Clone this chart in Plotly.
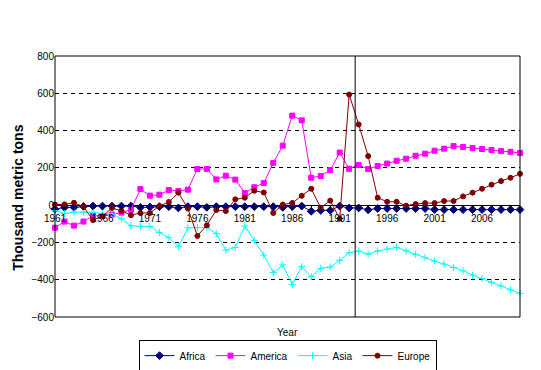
import plotly.graph_objects as go

years = list(range(1961, 2011))

africa = [-22, -12, -12, -7, -5, -5, -5, -5, -5, -12,
          -10, -8, -8, -15, -8, -8, -12, -8, -8, -8,
          -8, -8, -8, -8, -12, -8, -5, -33, -28, -28,
          -5, -15, -15, -25, -18, -18, -18, -18, -18, -18,
          -24, -24, -24, -24, -24, -24, -24, -24, -24, -24]

america = [-121, -88, -110, -88, -57, -57, -50, -40, -25, 86,
           51, 56, 81, 76, 83, 194, 194, 138, 158, 137,
           65, 96, 118, 227, 319, 480, 455, 147, 156, 188,
           282, 195, 215, 194, 210, 223, 238, 249, 265, 276,
           292, 303, 317, 312, 306, 301, 296, 290, 286, 280]

asia = [-30, -45, -38, -38, -38, -46, -46, -73, -110, -114,
        -114, -147, -175, -223, -122, -120, -120, -153, -241, -227,
        -112, -189, -268, -362, -321, -425, -330, -384, -339, -332,
        -296, -255, -246, -263, -246, -236, -226, -245, -264, -280,
        -300, -316, -334, -352, -375, -393, -414, -434, -455, -473]

europe = [3, 4, 13, -9, -80, -60, -15, -31, -54, -42,
          -42, -4, 17, 67, -18, -165, -108, -26, -32, 31,
          40, 77, 68, -42, 3, 12, 50, 88, -14, 24,
          -73, 593, 433, 263, 40, 18, 18, -3, 6, 11,
          11, 22, 22, 47, 67, 88, 110, 129, 147, 168]

tick_labels = [str(y) if (y - 1961) % 5 == 0 else "" for y in years]
y_ticks = [-600, -400, -200, 0, 200, 400, 600, 800]
marker_year = 1992.63

FONT = "Liberation Sans, Arial, sans-serif"

series = [
    ("Africa", africa, "#000080", "diamond", 6),
    ("America", america, "#FF00FF", "square", 5),
    ("Asia", asia, "#00FFFF", "cross-thin", 5),
    ("Europe", europe, "#800000", "circle", 5),
]

fig = go.Figure()
for name, vals, color, sym, size in series:
    fig.add_trace(go.Scatter(
        x=years, y=vals, name=name, mode="lines+markers",
        line=dict(color=color, width=1),
        marker=dict(symbol=sym, size=size, color=color,
                    line=dict(color=color, width=1)),
        cliponaxis=False,
    ))

fig.add_shape(type="line", xref="x", yref="paper",
              x0=marker_year, x1=marker_year, y0=0, y1=1,
              line=dict(color="black", width=1))
fig.add_shape(type="rect", xref="paper", yref="paper",
              x0=0, x1=1, y0=0, y1=1,
              line=dict(color="black", width=1), layer="above")

fig.add_annotation(text="<b>Thousand metric tons</b>", textangle=-90,
                   xref="paper", yref="paper", x=-0.08, y=0.456,
                   xanchor="center", yanchor="middle",
                   showarrow=False, font=dict(size=14, color="black", family=FONT))
fig.add_annotation(text="Year", xref="paper", yref="paper", x=0.5, y=-0.061,
                   xanchor="center", yanchor="middle",
                   showarrow=False, font=dict(size=10, color="black", family=FONT))

# page body adds an 8px offset; margins compensate for it
fig.update_layout(
    width=541, height=370,
    margin=dict(l=47, r=29, t=48, b=61, autoexpand=False),
    paper_bgcolor="white", plot_bgcolor="white",
    font=dict(family=FONT, size=10, color="black"),
    showlegend=True,
    legend=dict(orientation="h", x=0.5, xanchor="center",
                yref="paper", y=-0.148, yanchor="middle",
                bordercolor="black", borderwidth=1, font=dict(size=10),
                itemwidth=30, tracegroupgap=0, bgcolor="white"),
    xaxis=dict(range=[1961, 2010], tickmode="array", tickvals=years, ticktext=tick_labels,
               anchor="free", position=(0 - (-600)) / 1400,
               showline=False, ticks="outside", ticklen=4, tickcolor="black",
               showgrid=False, zeroline=False, tickangle=0, automargin=False,
               tickfont=dict(size=10, color="black")),
    yaxis=dict(range=[-600, 800], tickmode="array", tickvals=y_ticks,
               showgrid=True, gridcolor="black", gridwidth=1, griddash="4px,4px",
               zeroline=True, zerolinecolor="black", zerolinewidth=1, automargin=False,
               showline=False, ticks="", tickfont=dict(size=10, color="black")),
)

fig.write_html("out.html")
